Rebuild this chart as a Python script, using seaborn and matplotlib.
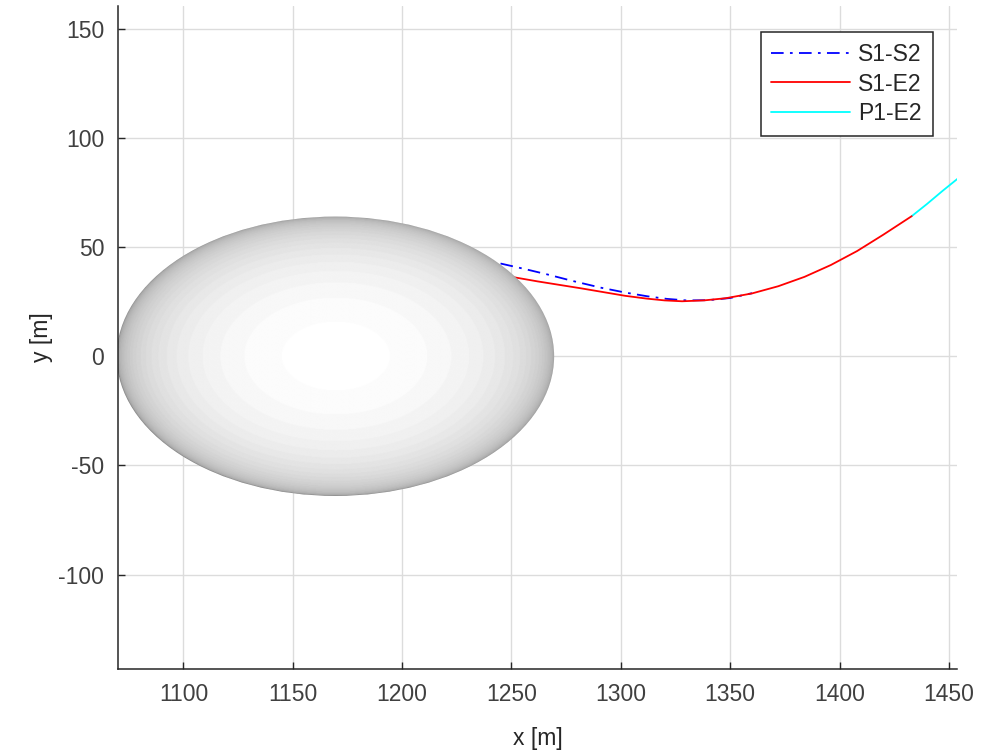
import numpy as np
import pandas as pd
import matplotlib
matplotlib.use("Agg")
import matplotlib.pyplot as plt
from matplotlib.patches import Ellipse
import seaborn as sns

# ---------------- data ----------------
s1s2_x = [1245, 1256, 1266, 1278, 1291, 1302, 1312, 1321, 1330, 1340, 1350, 1360]
s1s2_y = [42.5, 40.0, 37.6, 34.5, 31.4, 29.2, 27.5, 26.3, 25.6, 25.7, 26.7, 28.9]

s1e2_x = [1250, 1262, 1272, 1282, 1292, 1302, 1312, 1320, 1328, 1338, 1348, 1360,
          1372, 1384, 1396, 1408, 1420, 1433]
s1e2_y = [36.4, 34.3, 32.7, 31.1, 29.4, 27.7, 26.4, 25.6, 25.2, 25.6, 26.6, 28.8,
          32.1, 36.4, 41.8, 48.2, 55.7, 64.2]

p1e2_x = [1433, 1440, 1447, 1456]
p1e2_y = [64.2, 69.8, 75.7, 83.0]

series_labels = ["S1-S2", "S1-E2", "P1-E2"]

body_cx, body_cy = 1169.5, 0.0
body_rx, body_ry = 100.0, 64.0

x_ticks = [1100, 1150, 1200, 1250, 1300, 1350, 1400, 1450]
y_ticks = [-100, -50, 0, 50, 100, 150]
x_lim = (1070.1, 1453.7)
y_lim = (-143.3, 160.5)

# ---------------- style ----------------
sns.set_style("whitegrid", {
    "grid.color": "#dcdcdc",
    "axes.edgecolor": "#262626",
    "xtick.direction": "in",
    "ytick.direction": "in",
})
plt.rcParams["font.family"] = ["Liberation Sans", "DejaVu Sans"]
plt.rcParams["font.size"] = 16.5
plt.rcParams["axes.unicode_minus"] = False

fig = plt.figure(figsize=(9.96, 7.51), dpi=100)
ax = fig.add_axes([118 / 996, 1 - 669 / 751, (957 - 118) / 996, (669 - 6) / 751])

# ---------------- shaded body ----------------
gx = np.linspace(body_cx - body_rx, body_cx + body_rx, 600)
gy = np.linspace(body_cy - body_ry, body_cy + body_ry, 400)
GX, GY = np.meshgrid(gx, gy)
r2 = ((GX - body_cx) / body_rx) ** 2 + ((GY - body_cy) / body_ry) ** 2
z = np.sqrt(np.clip(1 - r2, 0, 1))
shade = 0.5 + 0.5 * z ** 0.5
shade = np.round(shade * 64) / 64
im = ax.imshow(shade, cmap="gray", vmin=0, vmax=1, origin="lower",
               extent=[gx[0], gx[-1], gy[0], gy[-1]], interpolation="bilinear",
               zorder=3, aspect="auto")
clip = Ellipse((body_cx, body_cy), 2 * body_rx, 2 * body_ry, transform=ax.transData,
               facecolor="none", edgecolor="none")
ax.add_patch(clip)
im.set_clip_path(clip)

# ---------------- trajectories ----------------
df1 = pd.DataFrame({"x": s1s2_x, "y": s1s2_y})
df2 = pd.DataFrame({"x": s1e2_x, "y": s1e2_y})
df3 = pd.DataFrame({"x": p1e2_x, "y": p1e2_y})

sns.lineplot(data=df1, x="x", y="y", sort=False, estimator=None, ax=ax,
             color="#0000ff", lw=1.3, linestyle=(0, (7, 3.5, 1.5, 3.5)),
             label=series_labels[0], zorder=2)
sns.lineplot(data=df2, x="x", y="y", sort=False, estimator=None, ax=ax,
             color="#ff0000", lw=1.3, label=series_labels[1], zorder=2.2)
sns.lineplot(data=df3, x="x", y="y", sort=False, estimator=None, ax=ax,
             color="#00ffff", lw=1.3, label=series_labels[2], zorder=2.1)

# ---------------- axes ----------------
ax.set_xlim(*x_lim)
ax.set_ylim(*y_lim)
ax.set_xticks(x_ticks)
ax.set_yticks(y_ticks)
ax.set_xlabel("x [m]", fontsize=16.5, color="#262626", labelpad=15)
ax.set_ylabel("y [m]", fontsize=16.5, color="#262626", labelpad=4)
ax.tick_params(axis="both", labelsize=16.5, labelcolor="#404040", length=5,
               width=1, color="#262626", pad=10, bottom=True, left=True)
for side in ["top", "right"]:
    ax.spines[side].set_visible(False)
for side in ["left", "bottom"]:
    ax.spines[side].set_linewidth(1.1)
    ax.spines[side].set_zorder(5)
ax.grid(True, color="#dcdcdc", lw=1)
ax.set_axisbelow(True)

leg = ax.legend(loc="upper right", bbox_to_anchor=(0.971, 0.961), borderaxespad=0,
                fontsize=16.5, frameon=True, fancybox=False, handlelength=3.45,
                handletextpad=0.35, labelspacing=0.3, borderpad=0.47)
leg.get_frame().set_edgecolor("#262626")
leg.get_frame().set_linewidth(1.1)
leg.get_frame().set_alpha(1)
for t in leg.get_texts():
    t.set_color("#262626")

fig.savefig("out.png", dpi=100)
